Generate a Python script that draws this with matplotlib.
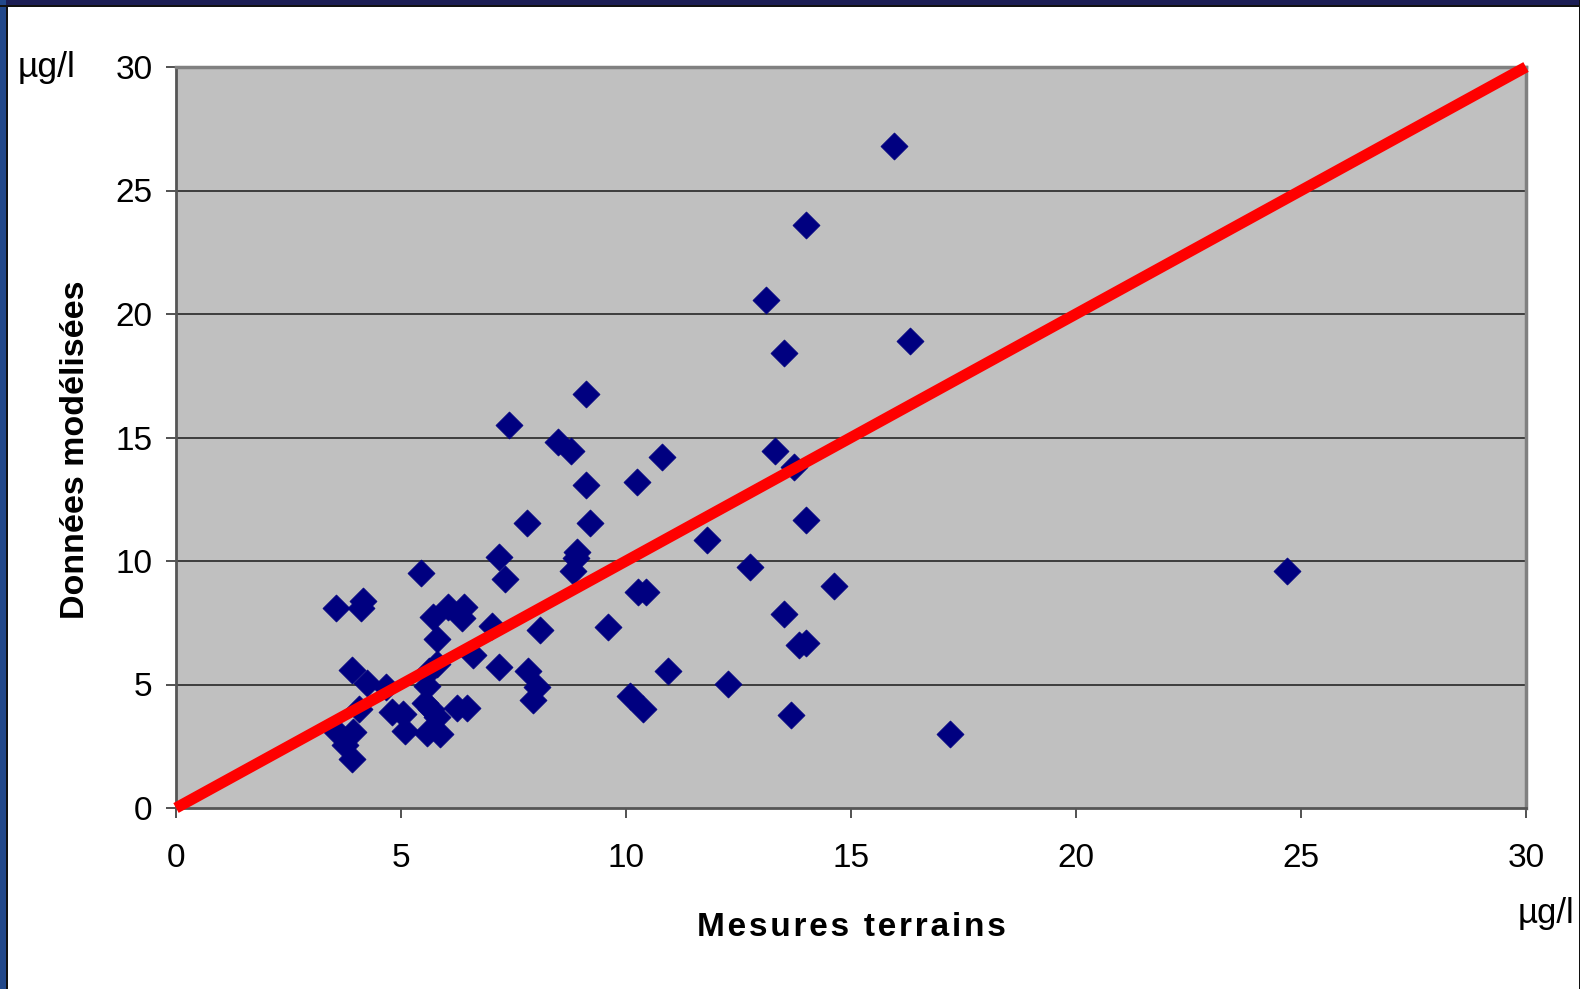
import matplotlib
matplotlib.use("Agg")
import matplotlib.pyplot as plt
from matplotlib.patches import Rectangle

# Field measurements (x) vs modelled values (y), in µg/l
mesures = [15.95, 14.00, 13.11, 16.31, 13.51, 9.12, 7.39, 8.49, 8.78, 10.80,
           13.31, 13.74, 10.24, 9.12, 7.80, 9.21, 14.00, 11.79, 8.92, 8.89,
           7.18, 12.75, 8.83, 5.44, 7.32, 14.63, 24.69, 10.26, 10.44, 3.56,
           4.16, 4.10, 6.05, 6.40, 6.35, 5.72, 13.51, 7.02, 8.09, 9.61,
           5.79, 13.85, 14.00, 6.61, 5.79, 5.62, 3.90, 7.18, 7.82, 10.93,
           4.24, 4.67, 5.57, 12.26, 8.03, 7.94, 10.08, 5.53, 4.07, 4.79,
           5.05, 5.67, 6.24, 6.46, 10.37, 5.79, 13.67, 5.09, 3.57, 5.57,
           5.87, 17.21, 3.93, 3.76, 3.90]
modelisees = [26.81, 23.62, 20.56, 18.92, 18.43, 16.76, 15.49, 14.83, 14.47, 14.22,
              14.47, 13.81, 13.20, 13.08, 11.52, 11.52, 11.65, 10.87, 10.38, 10.13,
              10.15, 9.77, 9.60, 9.50, 9.26, 8.99, 9.60, 8.75, 8.75, 8.11,
              8.38, 8.08, 8.13, 8.15, 7.68, 7.75, 7.85, 7.37, 7.21, 7.32,
              6.83, 6.58, 6.70, 6.19, 5.84, 5.56, 5.59, 5.70, 5.56, 5.56,
              5.07, 4.91, 4.94, 5.03, 4.89, 4.37, 4.54, 4.24, 4.01, 3.90,
              3.81, 4.00, 4.04, 4.04, 4.00, 3.70, 3.76, 3.13, 3.09, 3.02,
              3.00, 2.98, 3.09, 2.55, 1.97]

# Reference line y = x
ligne_x = [0, 30]
ligne_y = [0, 30]

ticks = [0, 5, 10, 15, 20, 25, 30]
tick_labels = ["0", "5", "10", "15", "20", "25", "30"]

plt.rcParams["font.family"] = ["Liberation Sans", "DejaVu Sans"]

W, H = 1580, 989
fig = plt.figure(figsize=(W / 100, H / 100), dpi=100)
fig.patch.set_facecolor("white")

# Slide border: navy band on top, blue band on the left, thin dark edges
fig.patches.append(Rectangle((0, 1 - 5 / H), 1, 5 / H, transform=fig.transFigure,
                             facecolor="#1c1e55", edgecolor="none", zorder=0))
fig.patches.append(Rectangle((0, 0), 6 / W, 1, transform=fig.transFigure,
                             facecolor="#22488a", edgecolor="none", zorder=0))
fig.patches.append(Rectangle((6 / W, 0), 1.5 / W, 1 - 5 / H, transform=fig.transFigure,
                             facecolor="#111111", edgecolor="none", zorder=0))
fig.patches.append(Rectangle((0, 1 - 6.5 / H), 1, 1.5 / H, transform=fig.transFigure,
                             facecolor="#111111", edgecolor="none", zorder=0))
fig.patches.append(Rectangle((1 - 1.5 / W, 0), 1.5 / W, 1, transform=fig.transFigure,
                             facecolor="#111111", edgecolor="none", zorder=0))

x0, x1, y0, y1 = 176, 1526, 67, 808
ax = fig.add_axes([x0 / W, 1 - y1 / H, (x1 - x0) / W, (y1 - y0) / H])
ax.set_facecolor("#c0c0c0")
ax.set_xlim(0, 30)
ax.set_ylim(0, 30)

for t in ticks[1:-1]:
    ax.axhline(t, color="#333333", lw=1.3, zorder=1)

ax.scatter(mesures, modelisees, marker="D", s=190, color="#000080",
           edgecolors="#000080", linewidths=0.5, zorder=3)
ax.plot(ligne_x, ligne_y, color="#ff0000", lw=8, solid_capstyle="butt",
        clip_on=False, zorder=4)

ax.set_xticks(ticks)
ax.set_xticklabels(tick_labels)
ax.set_yticks(ticks)
ax.set_yticklabels(tick_labels)
ax.tick_params(axis="both", direction="out", length=7, width=1.2,
               color="#333333", labelsize=24, labelcolor="black")
ax.tick_params(axis="x", pad=18)
ax.tick_params(axis="y", pad=10)

for side in ["top", "right"]:
    ax.spines[side].set_color("#808080")
    ax.spines[side].set_linewidth(2.5)
for side in ["left", "bottom"]:
    ax.spines[side].set_color("#555555")
    ax.spines[side].set_linewidth(2)

unit = "µg/l"
fig.text(18 / W, 1 - 68 / H, unit, fontsize=25.5, ha="left", va="center")
fig.text(1574 / W, 1 - 914 / H, unit, fontsize=25, ha="right", va="center")

# Letter-spaced bold axis titles
hair = "\u200a"
titre_x = hair.join("Mesures terrains")
fig.text(851 / W, 1 - 935.5 / H, titre_x, fontsize=24, fontweight="bold",
         ha="center", va="baseline")
fig.text(76 / W, 1 - 450 / H, "Données modélisées", fontsize=24.5, fontweight="bold",
         ha="center", va="center", rotation=90)

fig.savefig("out.png", dpi=100)
